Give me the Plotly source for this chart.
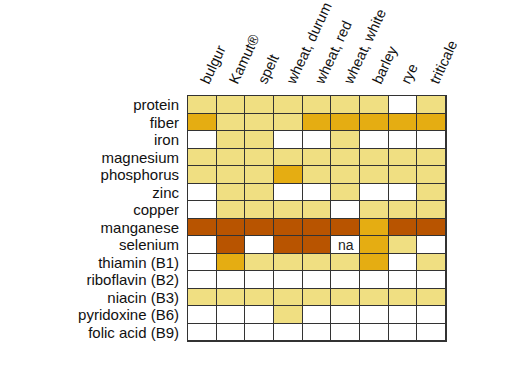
import plotly.graph_objects as go

grains = ["bulgur", "Kamut®", "spelt", "wheat, durum", "wheat, red",
          "wheat, white", "barley", "rye", "triticale"]
nutrients = ["protein", "fiber", "iron", "magnesium", "phosphorus", "zinc",
             "copper", "manganese", "selenium", "thiamin (B1)",
             "riboflavin (B2)", "niacin (B3)", "pyridoxine (B6)", "folic acid (B9)"]

# 0 = none, 1 = good, 2 = very good, 3 = excellent
levels = [
    [1, 1, 1, 1, 1, 1, 1, 0, 1],
    [2, 1, 1, 1, 2, 2, 2, 2, 2],
    [0, 1, 1, 0, 0, 1, 0, 0, 0],
    [1, 1, 1, 1, 1, 1, 1, 1, 1],
    [1, 1, 1, 2, 1, 1, 1, 1, 1],
    [0, 1, 1, 0, 0, 1, 0, 0, 1],
    [0, 1, 1, 1, 1, 0, 1, 1, 1],
    [3, 3, 3, 3, 3, 3, 2, 3, 3],
    [0, 3, 0, 3, 3, 0, 2, 1, 0],
    [0, 2, 1, 1, 1, 1, 2, 0, 1],
    [0, 0, 0, 0, 0, 0, 0, 0, 0],
    [1, 1, 1, 1, 1, 1, 1, 1, 1],
    [0, 0, 0, 1, 0, 0, 0, 0, 0],
    [0, 0, 0, 0, 0, 0, 0, 0, 0],
]
na_cells = [("wheat, white", "selenium")]

white, light, gold, brown = "#ffffff", "#f0df82", "#e5ad12", "#b85400"
colorscale = [[0, white], [0.25, white], [0.25, light], [0.5, light],
              [0.5, gold], [0.75, gold], [0.75, brown], [1, brown]]

fig = go.Figure(go.Heatmap(
    z=levels, x=grains, y=nutrients, zmin=-0.5, zmax=3.5,
    colorscale=colorscale, showscale=False, xgap=1, ygap=1,
    hoverongaps=False,
))

for gx, ny in na_cells:
    fig.add_annotation(x=gx, y=ny, text="na", showarrow=False,
                       font=dict(size=14, color="#222"))

font = "Liberation Sans, Arial, sans-serif"
fig.update_layout(
    width=529, height=377,
    margin=dict(l=188, r=83, t=96, b=36),
    paper_bgcolor="white", plot_bgcolor="#333333",
    font=dict(family=font, size=15, color="#111"),
    xaxis=dict(side="top", tickangle=-65, showgrid=False, zeroline=False,
               showline=True, mirror=True, linecolor="#333333", linewidth=1,
               ticks="", tickmode="array", tickvals=grains, ticktext=grains,
               automargin=False, tickfont=dict(size=14.5)),
    yaxis=dict(autorange="reversed", showgrid=False, zeroline=False,
               showline=True, mirror=True, linecolor="#333333", linewidth=1,
               ticks="", tickmode="array", tickvals=nutrients, ticktext=nutrients,
               ticklabelstandoff=5, automargin=False, tickfont=dict(size=15)),
)

fig.write_html("out.html", config={"displayModeBar": False},
               post_script="document.body.style.margin='0';document.body.style.overflow='hidden';")
